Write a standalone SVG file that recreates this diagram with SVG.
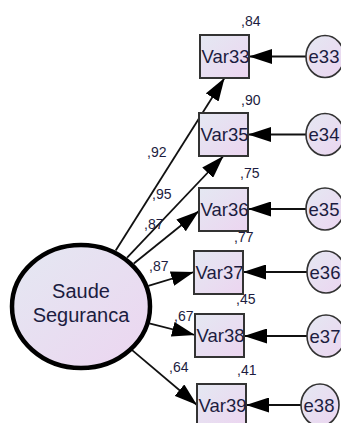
<svg xmlns="http://www.w3.org/2000/svg" width="341" height="423" viewBox="0 0 341 423">
<defs>
<linearGradient id="g" x1="0" y1="0" x2="1" y2="1">
<stop offset="0" stop-color="#e4e8f2"/>
<stop offset="1" stop-color="#ecd5f0"/>
</linearGradient>
<marker id="ah" markerUnits="userSpaceOnUse" markerWidth="23" markerHeight="15" refX="23" refY="7.5" orient="auto">
<path d="M0,0 L23,7.5 L0,15 z" fill="#000"/>
</marker>
</defs>
<style>
.box{fill:url(#g);stroke:#333;stroke-width:2}
.err{fill:url(#g);stroke:#333;stroke-width:1.6}
.lat{fill:url(#g);stroke:#000;stroke-width:4.5}
.c{stroke:#111;stroke-width:1.8;fill:none;marker-end:url(#ah)}
.t{font-family:"Liberation Sans",Arial,sans-serif;fill:#1c1c40}
.n{font-size:18.5px;text-anchor:middle}
.s{font-size:14px}
</style>
<g id="connectors">
<line class="c" x1="115.7" y1="250.6" x2="224.5" y2="78"/>
<line class="c" x1="127.1" y1="257.7" x2="223.5" y2="156"/>
<line class="c" x1="133.8" y1="263.5" x2="199" y2="211"/>
<line class="c" x1="148.3" y1="285.8" x2="194" y2="272"/>
<line class="c" x1="149.3" y1="323.4" x2="195" y2="335"/>
<line class="c" x1="132.1" y1="350.1" x2="197" y2="405"/>
<line class="c" x1="306" y1="56.5" x2="249" y2="56.5"/>
<line class="c" x1="306" y1="134.5" x2="248" y2="134.5"/>
<line class="c" x1="306" y1="209" x2="248" y2="209"/>
<line class="c" x1="307" y1="272" x2="243" y2="272"/>
<line class="c" x1="307" y1="336" x2="244" y2="336"/>
<line class="c" x1="301" y1="405" x2="246" y2="405"/>
</g>
<g id="labels" class="t s">
<text x="147" y="157">,92</text>
<text x="152" y="199">,95</text>
<text x="144" y="229">,87</text>
<text x="149" y="271">,87</text>
<text x="174" y="321">,67</text>
<text x="169" y="372">,64</text>
</g>
<g id="SaudeSeguranca">
<ellipse class="lat" cx="81" cy="306.5" rx="69" ry="61.5"/>
<text class="t" x="81" y="298" font-size="20" text-anchor="middle">Saude</text>
<text class="t" x="81" y="322" font-size="20" text-anchor="middle">Seguranca</text>
</g>
<g id="Var33">
<rect class="box" x="200" y="35" width="49" height="43"/>
<text class="t n" x="225.5" y="63">Var33</text>
<text class="t s" x="241" y="26">,84</text>
</g>
<g id="Var35">
<rect class="box" x="199" y="113" width="49" height="43"/>
<text class="t n" x="224.5" y="141">Var35</text>
<text class="t s" x="241" y="105">,90</text>
</g>
<g id="Var36">
<rect class="box" x="199" y="188" width="49" height="43"/>
<text class="t n" x="224.5" y="216">Var36</text>
<text class="t s" x="240" y="178">,75</text>
</g>
<g id="Var37">
<rect class="box" x="194" y="251" width="49" height="43"/>
<text class="t n" x="219.5" y="279">Var37</text>
<text class="t s" x="234" y="242">,77</text>
</g>
<g id="Var38">
<rect class="box" x="195" y="314" width="49" height="43"/>
<text class="t n" x="220.5" y="342">Var38</text>
<text class="t s" x="236" y="304">,45</text>
</g>
<g id="Var39">
<rect class="box" x="197" y="384" width="49" height="43"/>
<text class="t n" x="222.5" y="412">Var39</text>
<text class="t s" x="237" y="375">,41</text>
</g>
<g id="e33">
<ellipse class="err" cx="325" cy="56.5" rx="19" ry="21"/>
<text class="t n" x="324" y="63">e33</text>
</g>
<g id="e34">
<ellipse class="err" cx="325" cy="134.5" rx="19" ry="21"/>
<text class="t n" x="324" y="141">e34</text>
</g>
<g id="e35">
<ellipse class="err" cx="325" cy="209" rx="19" ry="21"/>
<text class="t n" x="324" y="215.5">e35</text>
</g>
<g id="e36">
<ellipse class="err" cx="326" cy="272" rx="19" ry="21"/>
<text class="t n" x="325" y="278.5">e36</text>
</g>
<g id="e37">
<ellipse class="err" cx="326" cy="336" rx="19" ry="21"/>
<text class="t n" x="325" y="342.5">e37</text>
</g>
<g id="e38">
<ellipse class="err" cx="320" cy="405" rx="19" ry="21"/>
<text class="t n" x="319" y="411.5">e38</text>
</g>
</svg>
